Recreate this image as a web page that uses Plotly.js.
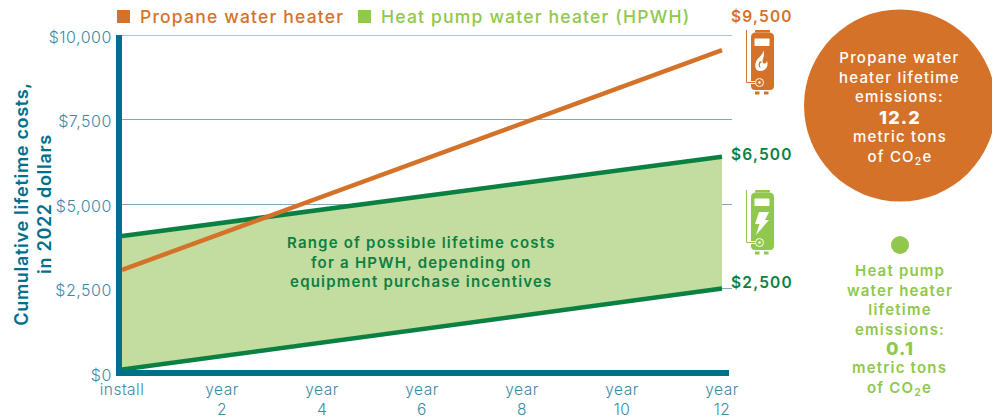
<!DOCTYPE html>
<html><head><meta charset="utf-8">
<script src="https://cdn.plot.ly/plotly-3.0.1.min.js"></script>
<style>html,body{margin:0;padding:0;background:#fff;overflow:hidden}
.annotation-text{letter-spacing:1.2px}
.xtick text,.ytick text{letter-spacing:.5px}
.ytitle{letter-spacing:.7px;translate:7px 0}
</style>
</head><body><div id="chart" style="width:992px;height:419px"></div>
<script>
const years = [0, 2, 4, 6, 8, 10, 12];
const tickLabels = ['install', 'year<br>2', 'year<br>4', 'year<br>6', 'year<br>8', 'year<br>10', 'year<br>12'];
const propane = [3050, 4130, 5220, 6300, 7390, 8470, 9550];
const hpwhHigh = [4050, 4440, 4830, 5220, 5620, 6010, 6400];
const hpwhLow = [100, 500, 900, 1300, 1700, 2100, 2500];
const yTicks = [0, 2500, 5000, 7500, 10000];
const yTickLabels = ['$0', '$2,500', '$5,000', '$7,500', '$10,000'];

const W = 992, H = 419, L = 122, R = 732, T = 35, B = 373;
const px = v => (v - L) / (R - L), py = v => (B - v) / (B - T);
const FONT = 'Inter, "Noto Sans", sans-serif';
const ORANGE = '#d5722a', TEAL = '#006e8f', TICK = '#3b8aa6', DG = '#0b8043', LG = '#8fc84c', FILL = '#c3dc9f';

function note(text, x, y, size, color, weight, extra) {
  return Object.assign({text, x: px(x), y: py(y), xref: 'paper', yref: 'paper', showarrow: false,
    xanchor: 'center', yanchor: 'middle', align: 'center',
    font: {family: FONT, size, color, weight: weight || 500}}, extra || {});
}
function icon(color, glyph) {
  const svg = `<svg xmlns="http://www.w3.org/2000/svg" width="84" height="195" viewBox="0 0 28 65">
<path d="M.5 0V52.500H9" fill="none" stroke="${color}" stroke-width="1"/>
<rect x="9" y="0" width="15" height="2.500" rx="1" fill="${color}"/>
<path d="M9 2.500H24Q28 3 28 7V56Q28 60 24 60H9Q5 60 5 56V54H9V51H5V7Q5 3 9 2.500Z" fill="${color}"/>
<rect x="9" y="61.500" width="4.500" height="3" fill="${color}"/><rect x="18" y="61.500" width="4.500" height="3" fill="${color}"/>
<rect x="8.500" y="8.500" width="15" height="7.500" rx=".5" fill="#fff"/>
${glyph}
<circle cx="13.500" cy="52.500" r="4" fill="${color}" stroke="#fff" stroke-width="1"/>
<circle cx="13.500" cy="52.500" r="1.200" fill="#fff"/>
</svg>`;
  return 'data:image/svg+xml;base64,' + btoa(svg);
}
const flame = '<path d="M17 20C18 25 12 27 10 32C8 37 10 41 14 41C19 41 23 37 21 31C20 34 18 34 17 33C15 30 20 26 17 20Z" fill="#fff"/><path d="M14 31C12 34 12 37 15 38C13 35 14 33 16 32Z" fill="' + ORANGE + '"/>';
const bolt = '<path d="M13 22H23L19 30H23L10 45L13.500 34H9Z" fill="#fff"/>';

const traces = [
  {x: years, y: hpwhLow, mode: 'lines', name: 'HPWH low', line: {color: DG, width: 4.5}, showlegend: false, hoverinfo: 'y'},
  {x: years, y: hpwhHigh, mode: 'lines', name: 'HPWH high', line: {color: DG, width: 4.5}, fill: 'tonexty', fillcolor: FILL, showlegend: false, hoverinfo: 'y'},
  {x: years, y: propane, mode: 'lines', name: 'Propane water heater', line: {color: ORANGE, width: 4.5}, showlegend: false, hoverinfo: 'y'}
];

const layout = {
  width: W, height: H, margin: {l: L, r: W - R, t: T, b: H - B, pad: 0},
  paper_bgcolor: '#fff', plot_bgcolor: '#fff', showlegend: false,
  font: {family: FONT},
  xaxis: {range: [0, 12.2], tickvals: years, ticktext: tickLabels, showgrid: false, zeroline: false, showline: false,
    ticks: '', ticklabelstandoff: 5, tickfont: {family: FONT, size: 15.5, color: TICK, weight: 300}, tickangle: 0},
  yaxis: {range: [0, 10000], tickvals: yTicks, ticktext: yTickLabels, showgrid: true, gridcolor: '#84a9bc', gridwidth: 1, zeroline: false,
    showline: true, linecolor: TEAL, linewidth: 6, ticks: '', ticklabelstandoff: 1, ticklabelshift: 2,
    tickfont: {family: FONT, size: 16, color: TICK, weight: 300},
    title: {text: 'Cumulative lifetime costs,<br>in 2022 dollars', standoff: 1, font: {family: FONT, size: 18, color: TEAL, weight: 600}}},
  shapes: [
    {type: 'line', xref: 'paper', yref: 'y', x0: 0, x1: 1, y0: yTicks[4], y1: yTicks[4], line: {color: '#a9c6d6', width: 2}},
    {type: 'line', xref: 'paper', yref: 'paper', x0: px(116), x1: px(729), y0: 0, y1: 0, line: {color: TEAL, width: 6}, layer: 'above'},
    {type: 'rect', xref: 'paper', yref: 'paper', x0: px(117), x1: px(130), y0: py(23), y1: py(10), fillcolor: ORANGE, line: {width: 0}},
    {type: 'rect', xref: 'paper', yref: 'paper', x0: px(358), x1: px(371), y0: py(23), y1: py(10), fillcolor: LG, line: {width: 0}},
    {type: 'circle', xref: 'paper', yref: 'paper', x0: px(804), x1: px(996), y0: py(201.500), y1: py(9.500), fillcolor: ORANGE, line: {width: 0}},
    {type: 'circle', xref: 'paper', yref: 'paper', x0: px(891), x1: px(909), y0: py(254), y1: py(236), fillcolor: LG, line: {width: 0}}
  ],
  images: [
    {source: icon(ORANGE, flame), xref: 'paper', yref: 'paper', x: px(746), y: py(30), sizex: 28 / (R - L), sizey: 65 / (B - T), sizing: 'stretch', xanchor: 'left', yanchor: 'top', layer: 'above'},
    {source: icon(LG, bolt), xref: 'paper', yref: 'paper', x: px(746), y: py(190), sizex: 28 / (R - L), sizey: 65 / (B - T), sizing: 'stretch', xanchor: 'left', yanchor: 'top', layer: 'above'}
  ],
  annotations: [
    note('Propane water heater', 138, 17, 17.5, ORANGE, 500, {xanchor: 'left'}),
    note('Heat pump water heater (HPWH)', 379, 17, 17.5, LG, 500, {xanchor: 'left'}),
    note('$9,500', 762, 16, 15.5, ORANGE, 600),
    note('$6,500', 762, 154, 15.5, DG, 600),
    note('$2,500', 762, 282, 15.5, DG, 600),
    note('Range of possible lifetime costs<br>for a HPWH, depending on<br>equipment purchase incentives', 421, 262, 15, DG, 600),
    note('Propane water<br>heater lifetime<br>emissions:', 900, 77, 15, '#fff', 500),
    note('12.2', 900, 117, 18, '#fff', 800),
    note('metric tons<br>of CO<sub>2</sub>e', 900, 147, 15, '#fff', 500),
    note('Heat pump<br>water heater<br>lifetime<br>emissions:', 900, 299.5, 15, LG, 600),
    note('0.1', 900, 348, 18, LG, 800),
    note('metric tons<br>of CO<sub>2</sub>e', 900, 378, 15, LG, 600)
  ]
};
Plotly.newPlot('chart', traces, layout, {displayModeBar: false, staticPlot: true});
</script></body></html>
